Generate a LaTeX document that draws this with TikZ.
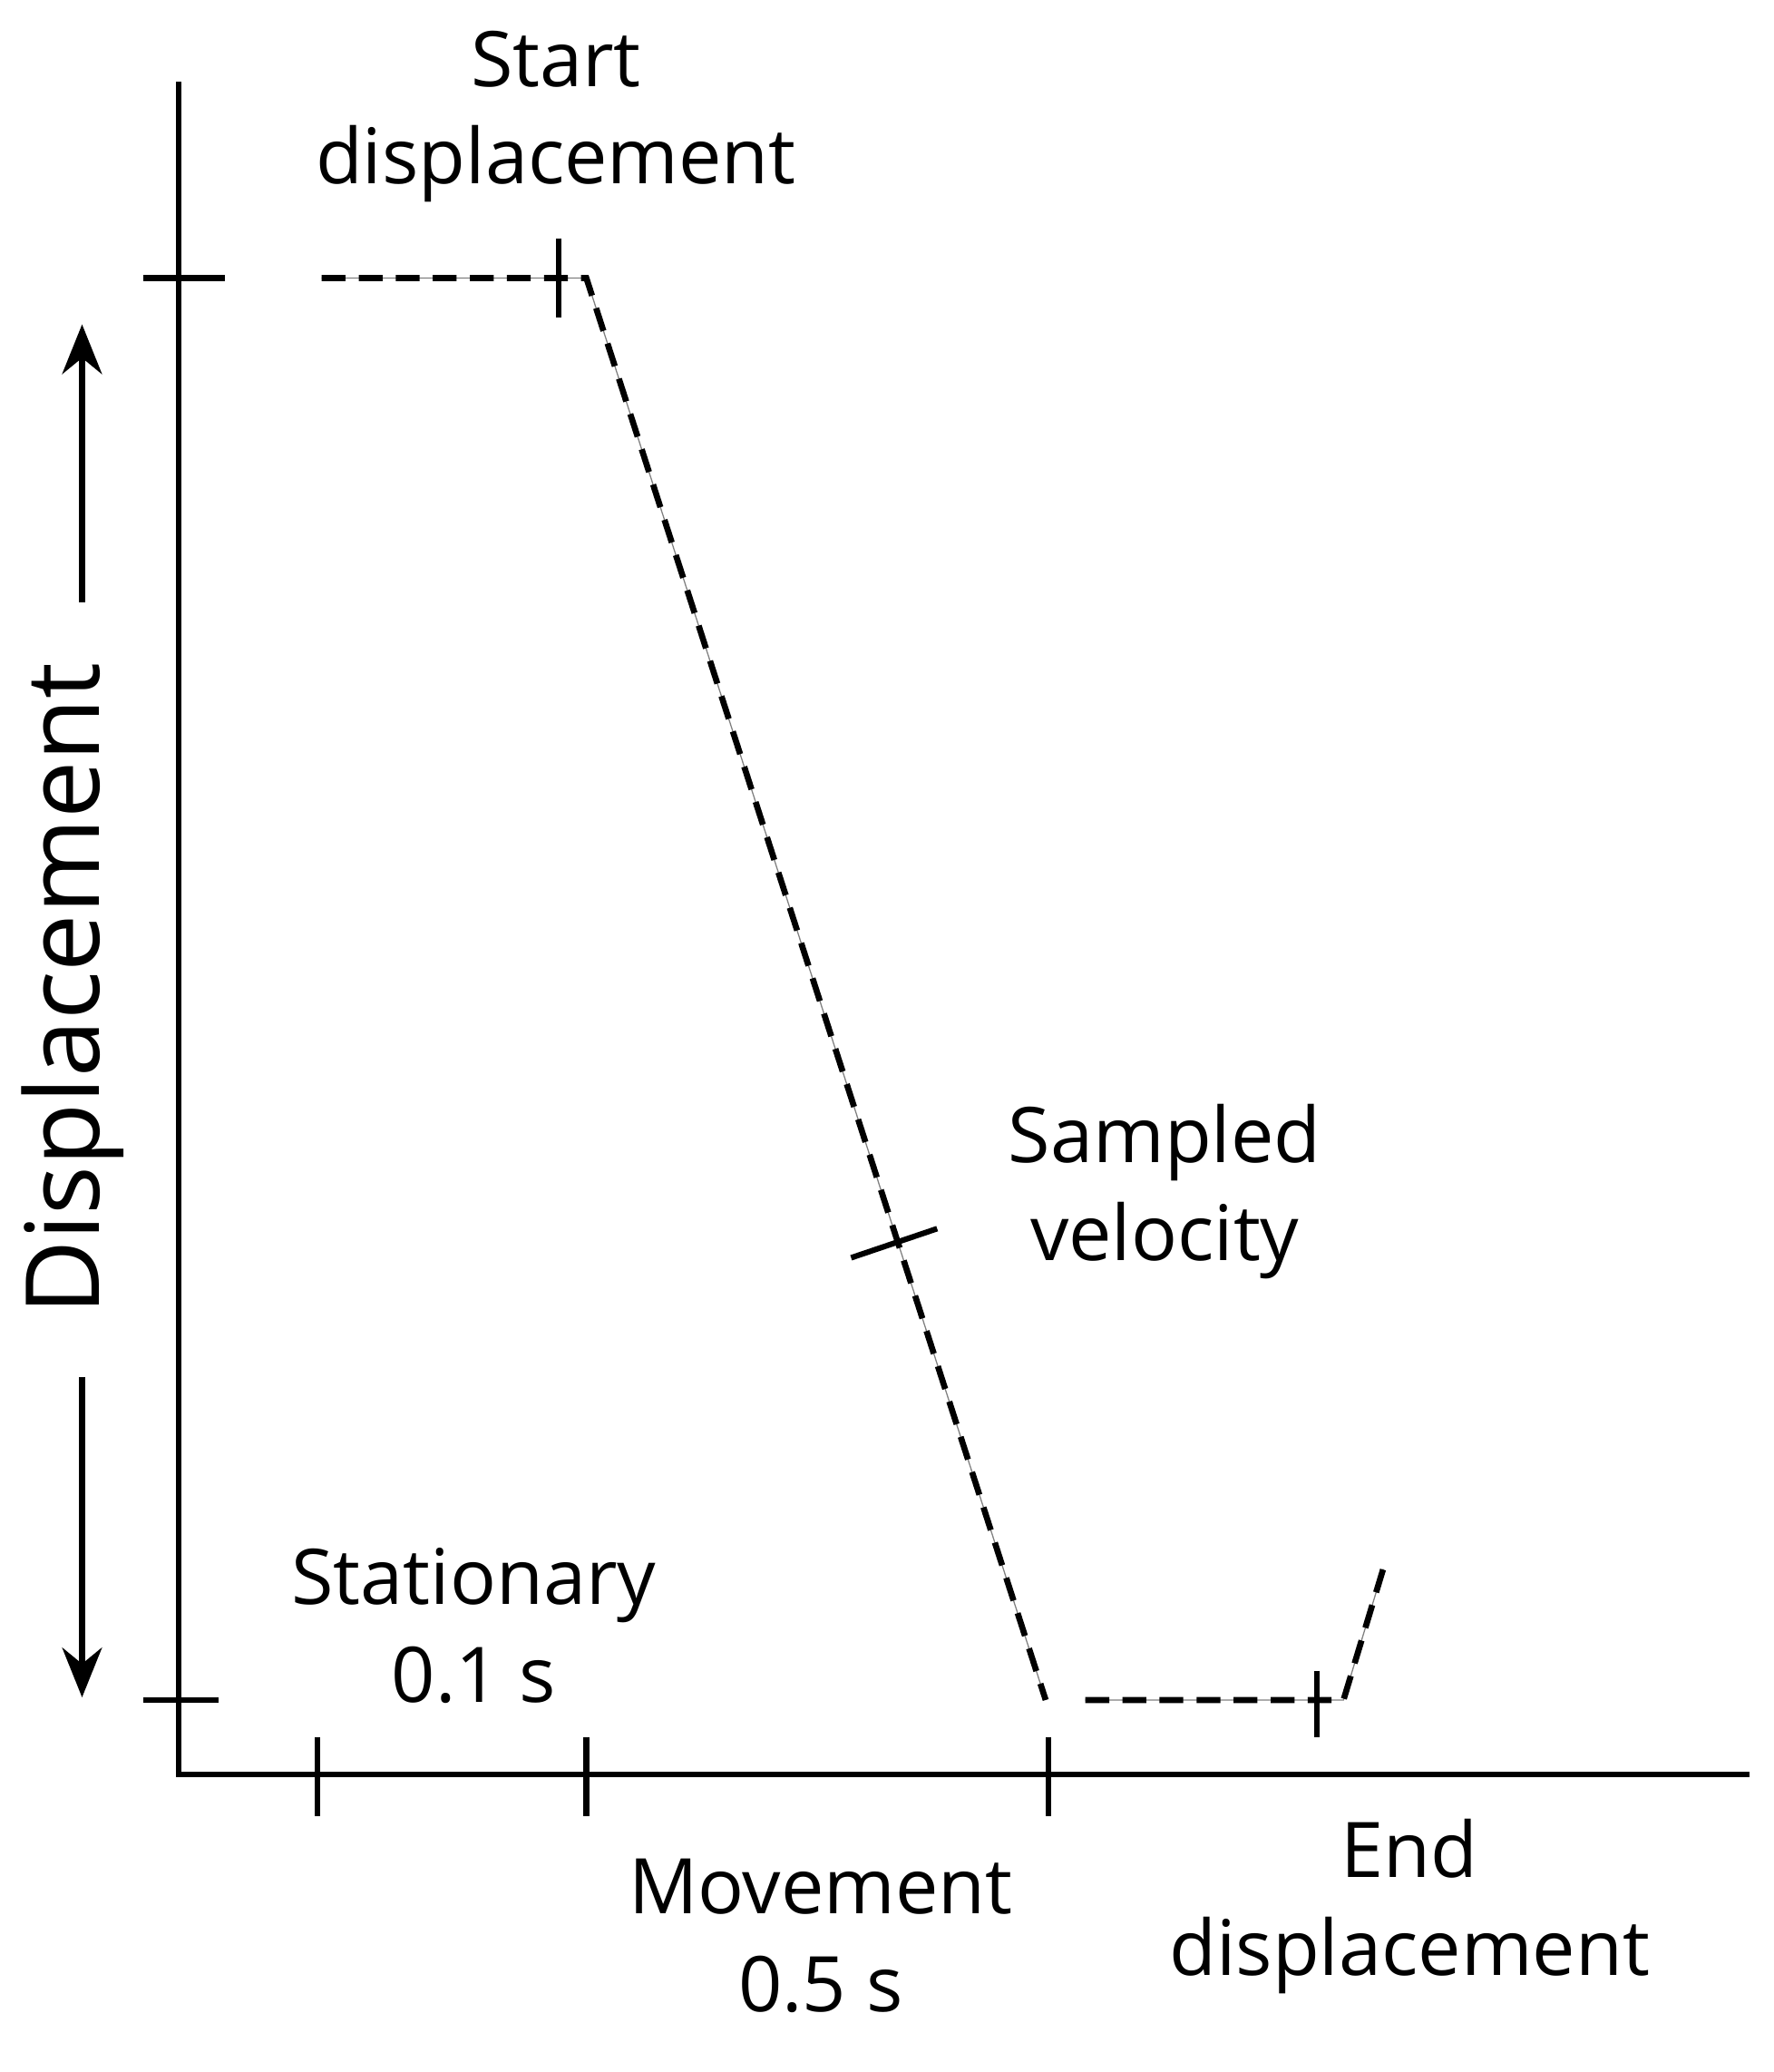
\documentclass[tikz,border=0pt]{standalone}
\usepackage{fontspec}
\setmainfont{Open Sans}
\usetikzlibrary{arrows.meta}
\begin{document}
\begin{tikzpicture}[x=0.02cm,y=-0.02cm,
  axis/.style={line width=2.4pt},
  curve/.style={line width=2.6pt,dash pattern=on 0.36cm off 0.2cm},
  thin/.style={gray,line width=0.5pt},
  lbl/.style={align=center,font=\fontsize{33}{42}\selectfont,inner sep=0pt}]
\useasboundingbox (0,0) rectangle (1340,1565);
% axes
\coordinate (o) at (135,1340);
\coordinate (ytop) at (135,62);
\coordinate (xend) at (1322,1340);
\draw[axis] (ytop) -- (o) -- (xend);
\foreach \x/\n in {240/t1,443/t2,792/t3}{\coordinate (\n a) at (\x,1312); \coordinate (\n b) at (\x,1372); \draw[axis] (\n a) -- (\n b);}
\coordinate (ya1) at (108,210); \coordinate (yb1) at (170,210);
\coordinate (ya2) at (108,1284); \coordinate (yb2) at (165,1284);
\draw[axis] (ya1) -- (yb1); \draw[axis] (ya2) -- (yb2);
% curve
\coordinate (p0) at (243,210); \coordinate (p1) at (443,210); \coordinate (p2) at (790,1284);
\coordinate (p3) at (820,1284); \coordinate (p4) at (1015,1284); \coordinate (p5) at (1045,1185);
\draw[thin] (p0) -- (p1) -- (p2); \draw[thin] (p3) -- (p4) -- (p5);
\draw[curve] (p0) -- (p1) -- (p2); \draw[curve] (p3) -- (p4) -- (p5);
% markers
\coordinate (m1a) at (422,180); \coordinate (m1b) at (422,240);
\coordinate (m2a) at (643,950); \coordinate (m2b) at (708,928);
\coordinate (m3a) at (995,1262); \coordinate (m3b) at (995,1312);
\draw[axis] (m1a) -- (m1b); \draw[axis] (m2a) -- (m2b); \draw[axis] (m3a) -- (m3b);
% displacement arrow
\node[rotate=90,inner sep=0pt,font=\fontsize{44}{50}\selectfont] (dl) at (55,747) {Displacement};
\coordinate (at) at (62,245); \coordinate (ab) at (62,1282);
\coordinate (a1) at (62,455); \coordinate (a2) at (62,1040);
\draw[axis,-{Stealth[length=0.75cm,width=0.6cm]}] (a1) -- (at);
\draw[axis,-{Stealth[length=0.75cm,width=0.6cm]}] (a2) -- (ab);
% labels
\node[lbl] (s) at (420,88) {Start\\displacement};
\node[lbl] (v) at (880,900) {Sampled\\velocity};
\node[lbl] (st) at (358,1228) {Stationary\\0.1 s};
\node[lbl] (mv) at (620,1462) {Movement\\0.5 s};
\node[lbl] (e) at (1065,1440) {End\\displacement};
\end{tikzpicture}
\end{document}
